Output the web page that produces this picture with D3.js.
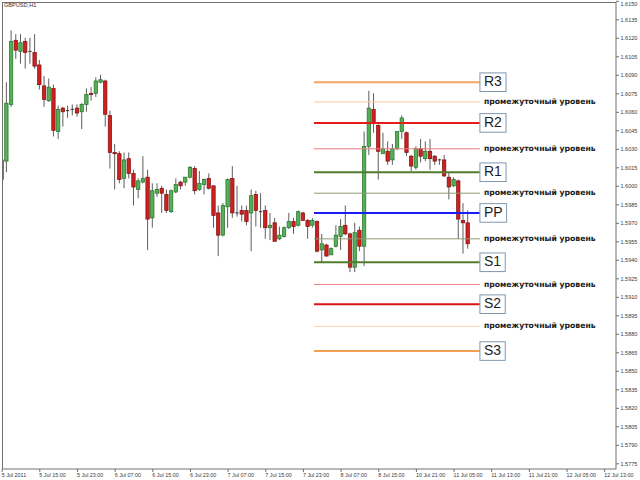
<!DOCTYPE html>
<html><head><meta charset="utf-8">
<script src="https://cdn.jsdelivr.net/npm/d3@7"></script>
<style>body{margin:0;background:#fff}svg{display:block}</style>
</head><body>
<svg id="c" width="640" height="480"></svg>
<script>
// ---------------- data ----------------
const title = "GBPUSD,H1";
const timeLabels = ["5 Jul 2011","5 Jul 15:00","5 Jul 23:00","6 Jul 07:00","6 Jul 15:00","6 Jul 23:00",
  "7 Jul 07:00","7 Jul 15:00","7 Jul 23:00","8 Jul 07:00","8 Jul 15:00","10 Jul 21:00",
  "11 Jul 05:00","11 Jul 13:00","11 Jul 21:00","12 Jul 05:00","12 Jul 13:00"];
const timeLabelBars = [0,8,16,24,32,40,48,56,64,72,80,88,96,104,112,120,128];
const priceLabels = ["1.6150","1.6135","1.6120","1.6105","1.6090","1.6075","1.6060","1.6045","1.6030",
  "1.6015","1.6000","1.5985","1.5970","1.5955","1.5940","1.5925","1.5910","1.5895","1.5880",
  "1.5865","1.5850","1.5835","1.5820","1.5805","1.5790","1.5775"];

const open = [1.6005,1.6020,1.6066,1.6118,1.6109,1.6117,1.6109,1.6108,1.6098,1.6081,
1.6069,1.6079,1.6044,1.6063,1.6061,1.6062,1.6063,1.6060,1.6066,1.6075,
1.6075,1.6084,1.6085,1.6057,1.6027,1.6026,1.6006,1.6022,1.6010,1.5997,
1.6003,1.6007,1.5974,1.5994,1.5998,1.5993,1.5979,1.5995,1.6003,1.6003,
1.6007,1.6014,1.5997,1.6001,1.6006,1.6000,1.5978,1.5960,1.5983,1.6006,
1.5978,1.5980,1.5980,1.5978,1.5993,1.5979,1.5980,1.5966,1.5970,1.5957,
1.5959,1.5966,1.5971,1.5968,1.5978,1.5972,1.5968,1.5971,1.5948,1.5952,
1.5944,1.5951,1.5959,1.5968,1.5961,1.5934,1.5964,1.5951,1.6032,1.6062,
1.6049,1.6026,1.6028,1.6021,1.6030,1.6044,1.6043,1.6024,1.6015,1.6030,
1.6022,1.6028,1.6024,1.6021,1.6021,1.6007,1.6000,1.6004,1.5972,1.5970];
const high = [1.6022,1.6084,1.6126,1.6123,1.6123,1.6120,1.6120,1.6123,1.6102,1.6089,
1.6087,1.6082,1.6065,1.6064,1.6065,1.6066,1.6066,1.6067,1.6079,1.6080,
1.6088,1.6090,1.6086,1.6061,1.6034,1.6028,1.6027,1.6027,1.6013,1.6006,
1.6024,1.6013,1.6002,1.6002,1.6000,1.5997,1.5997,1.6006,1.6004,1.6007,
1.6016,1.6016,1.6012,1.6006,1.6010,1.6000,1.5984,1.5986,1.6006,1.6016,
1.6000,1.5984,1.5984,1.5997,1.5996,1.5994,1.5984,1.5978,1.5974,1.5967,
1.5967,1.5978,1.5974,1.5980,1.5979,1.5973,1.5974,1.5972,1.5961,1.5953,
1.5950,1.5968,1.5973,1.5984,1.5962,1.5970,1.5967,1.6044,1.6077,1.6075,
1.6050,1.6043,1.6036,1.6034,1.6044,1.6057,1.6044,1.6025,1.6032,1.6038,
1.6036,1.6038,1.6025,1.6022,1.6025,1.6011,1.6007,1.6005,1.5986,1.5980];
const low = [1.5990,1.6011,1.6064,1.6103,1.6099,1.6095,1.6099,1.6095,1.6078,1.6064,
1.6068,1.6040,1.6038,1.6048,1.6055,1.6057,1.6056,1.6046,1.6060,1.6069,
1.6072,1.6083,1.6048,1.6014,1.5997,1.6002,1.5998,1.6006,1.5984,1.5990,
1.6002,1.5948,1.5966,1.5991,1.5978,1.5978,1.5978,1.5994,1.5997,1.6000,
1.6006,1.5993,1.5996,1.5993,1.5997,1.5966,1.5943,1.5959,1.5966,1.5974,
1.5975,1.5971,1.5968,1.5947,1.5967,1.5966,1.5957,1.5956,1.5955,1.5956,
1.5958,1.5965,1.5961,1.5967,1.5972,1.5957,1.5966,1.5946,1.5938,1.5943,
1.5944,1.5950,1.5948,1.5960,1.5930,1.5930,1.5947,1.5935,1.6025,1.6043,
1.6005,1.6026,1.6017,1.6017,1.6029,1.6038,1.6024,1.6012,1.6013,1.6019,
1.6020,1.6013,1.6017,1.6017,1.6007,1.5989,1.5999,1.5957,1.5945,1.5949];
const close = [1.6021,1.6067,1.6117,1.6110,1.6116,1.6108,1.6109,1.6097,1.6082,1.6070,
1.6080,1.6045,1.6062,1.6060,1.6061,1.6062,1.6059,1.6066,1.6074,1.6074,
1.6085,1.6086,1.6058,1.6027,1.6026,1.6005,1.6021,1.6010,1.5999,1.6004,
1.6006,1.5973,1.5996,1.5997,1.5994,1.5980,1.5996,1.6001,1.6000,1.6007,
1.6015,1.5996,1.6002,1.6005,1.5998,1.5976,1.5960,1.5984,1.6005,1.5978,
1.5978,1.5977,1.5971,1.5992,1.5980,1.5979,1.5966,1.5968,1.5955,1.5960,
1.5966,1.5971,1.5967,1.5979,1.5972,1.5967,1.5972,1.5947,1.5953,1.5943,
1.5949,1.5960,1.5967,1.5961,1.5934,1.5962,1.5951,1.6032,1.6063,1.6051,
1.6028,1.6030,1.6020,1.6030,1.6044,1.6055,1.6027,1.6016,1.6030,1.6024,
1.6028,1.6022,1.6020,1.6021,1.6008,1.5999,1.6005,1.5973,1.5970,1.5953];

const pivotNames  = ["R3","R2","R1","PP","S1","S2","S3"];
const pivotValues = [1.6084,1.6051,1.6011,1.5978,1.5938,1.5904,1.5866];
const midValues   = [1.6068,1.6030,1.5994,1.5957,1.5920,1.5886];
const midLabel    = "промежуточный уровень";

// ---------------- styles / layout ----------------
const pivotColors = ["#f2a463","#e41c1c","#4f7d2c","#1c1cf5","#4f7d2c","#d81414","#f2a052"];
const midColors   = ["#f4cba0","#e87c7c","#8c9c74","#8c9c74","#e88080","#f8d4b4"];
const levelFromBar = 66.35, levelToBar = 101.6, labelBar = 102.45;
const frame = {l:2, t:2, r:616, b:469};

const svg = d3.select("#c");
svg.append("rect").attr("width",640).attr("height",480).attr("fill","#fff");

const x = d3.scaleLinear().domain([0,130]).range([1.67, 613.6]);
const y = d3.scaleLinear().domain([1.5775,1.6150]).range([463.3,0.8]);

svg.append("defs").append("clipPath").attr("id","clip")
  .append("rect").attr("x",frame.l).attr("y",frame.t)
  .attr("width",frame.r-frame.l).attr("height",frame.b-frame.t);

// title
svg.append("text").attr("x",4).attr("y",5.6).attr("dominant-baseline","middle")
  .attr("font-family","Liberation Sans, Arial, sans-serif").attr("font-size",5.6)
  .attr("fill","#333").text(title);

// candles
const bars = d3.range(open.length).map(i => ({i, o:open[i], h:high[i], l:low[i], c:close[i]}));
const cg = svg.append("g").attr("clip-path","url(#clip)");
const bw = 3.4;
cg.selectAll("line.w").data(bars).join("line").attr("class","w")
  .attr("x1",d=>x(d.i)).attr("x2",d=>x(d.i))
  .attr("y1",d=>y(d.h)).attr("y2",d=>y(d.l))
  .attr("stroke","#5e5e5e").attr("stroke-width",1);
cg.selectAll("rect.b").data(bars.filter(d=>d.o!==d.c)).join("rect").attr("class","b")
  .attr("x",d=>x(d.i)-bw/2).attr("width",bw)
  .attr("y",d=>y(Math.max(d.o,d.c)))
  .attr("height",d=>Math.max(1, Math.abs(y(d.o)-y(d.c))))
  .attr("fill",d=>d.c>d.o?"#55b055":"#cf2020")
  .attr("stroke",d=>d.c>d.o?"#23702a":"#7a1010").attr("stroke-width",0.7);
cg.selectAll("line.d").data(bars.filter(d=>d.o===d.c)).join("line").attr("class","d")
  .attr("x1",d=>x(d.i)-bw/2).attr("x2",d=>x(d.i)+bw/2)
  .attr("y1",d=>y(d.o)).attr("y2",d=>y(d.o))
  .attr("stroke","#333").attr("stroke-width",1);

// levels
const lg = svg.append("g");
lg.selectAll("line.m").data(midValues).join("line").attr("class","m")
  .attr("x1",x(levelFromBar)).attr("x2",x(levelToBar))
  .attr("y1",d=>y(d)).attr("y2",d=>y(d))
  .attr("stroke",(d,i)=>midColors[i]).attr("stroke-width",1);
lg.selectAll("line.p").data(pivotValues).join("line").attr("class","p")
  .attr("x1",x(levelFromBar)).attr("x2",x(levelToBar))
  .attr("y1",d=>y(d)).attr("y2",d=>y(d))
  .attr("stroke",(d,i)=>pivotColors[i]).attr("stroke-width",2);
lg.selectAll("text.m").data(midValues).join("text").attr("class","m")
  .attr("x",x(labelBar)).attr("y",d=>y(d)).attr("dominant-baseline","middle")
  .attr("font-family","DejaVu Sans, sans-serif").attr("font-weight","bold").attr("font-size",7.7)
  .attr("fill","#1a1a1a").text(midLabel);
const boxes = lg.selectAll("g.box").data(pivotValues).join("g").attr("class","box")
  .attr("transform",d=>`translate(${x(levelToBar)},${y(d)})`);
boxes.append("text").attr("x",4).attr("y",0.5).attr("dominant-baseline","middle")
  .attr("font-family","Liberation Sans, Arial, sans-serif").attr("font-size",14)
  .attr("fill","#1e1e1e").text((d,i)=>pivotNames[i]);
boxes.each(function(){
  const g = d3.select(this), t = g.select("text").node().getBBox();
  g.insert("rect","text").attr("x",0).attr("y",-9.3).attr("width",t.width+8).attr("height",18.6)
    .attr("fill","#fff").attr("stroke","#7f98b0").attr("stroke-width",1);
});

// frame
svg.append("rect").attr("x",frame.l+0.5).attr("y",frame.t+0.5)
  .attr("width",frame.r-frame.l-0.5).attr("height",frame.b-frame.t-0.5)
  .attr("fill","none").attr("stroke","#707070").attr("stroke-width",1);

// price axis
const ya = d3.axisRight(y).tickValues(priceLabels.map(Number))
  .tickFormat((d,i)=>priceLabels[i]).tickSize(3).tickPadding(1.5);
const yg = svg.append("g").attr("transform",`translate(${frame.r},0)`).call(ya);
yg.select(".domain").remove();
yg.selectAll(".tick line").attr("stroke","#707070");
yg.selectAll(".tick text").attr("font-family","Liberation Sans, Arial, sans-serif")
  .attr("font-size",5.5).attr("fill","#3a3a3a").attr("dy","0.35em")
  .attr("y",function(d){ return y(d) < 4 ? 4 - y(d) : 0; });

// time axis
const xa = d3.axisBottom(x).tickValues(timeLabelBars)
  .tickFormat((d,i)=>timeLabels[i]).tickSize(3).tickPadding(1.5);
const xg = svg.append("g").attr("transform",`translate(0,${frame.b})`).call(xa);
xg.select(".domain").remove();
xg.selectAll(".tick line").attr("stroke","#707070");
xg.selectAll(".tick text").attr("font-family","Liberation Sans, Arial, sans-serif")
  .attr("font-size",5.4).attr("fill","#3a3a3a").attr("text-anchor","start").attr("x",-0.5);
</script>
</body></html>
